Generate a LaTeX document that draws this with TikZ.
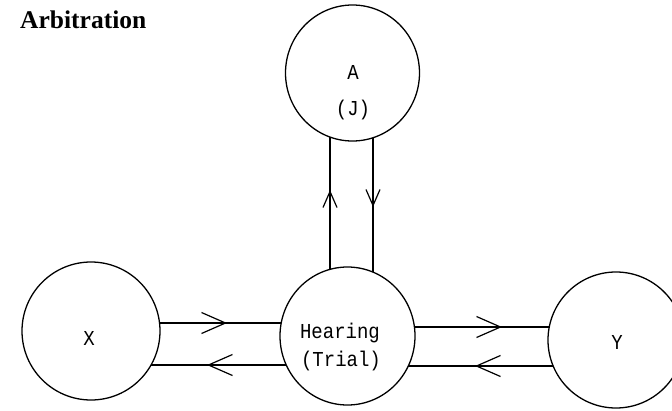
\documentclass[tikz,border=0pt]{standalone}
\usepackage{fontspec}
\setmainfont{Liberation Serif}
\newfontfamily\monofont{Liberation Mono}
\usetikzlibrary{shapes.geometric,arrows.meta,decorations.markings,backgrounds}
\newcommand\mytall[1]{\scalebox{1}[1.12]{#1}}
\begin{document}
\begin{tikzpicture}[x=1pt,y=-1pt,
  bubble/.style={draw, ellipse, line width=1.3pt, fill=white, inner sep=0pt},
  lbl/.style={font=\monofont\fontsize{19}{19}\selectfont, inner sep=0pt},
  link/.style={line width=1.2pt},
  hbarb/.style={postaction={decorate}, decoration={markings, mark=at position #1 with {\arrow{Straight Barb[length=24pt,width=21pt,line width=1.2pt]}}}},
  vbarb/.style={postaction={decorate}, decoration={markings, mark=at position #1 with {\arrow{Straight Barb[length=16pt,width=14pt,line width=1.2pt]}}}}
]
\useasboundingbox (0,0) rectangle (672,410);

\node[font=\bfseries\fontsize{25.5}{26}\selectfont, anchor=base west, inner sep=0pt] (title) at (20,28) {Arbitration};

\node[bubble, minimum width=138pt, minimum height=138pt] (X) at (91,331) {};
\node[bubble, minimum width=135pt, minimum height=138pt] (H) at (347.5,336) {};
\node[bubble, minimum width=136pt, minimum height=136pt] (Y) at (616,340) {};
\node[bubble, minimum width=134pt, minimum height=136pt] (A) at (352.5,73) {};

\node[lbl] (xl) at (89,338) {\mytall{X}};
\node[lbl] (yl) at (617,342) {\mytall{Y}};
\node[lbl] (al) at (353,72) {\mytall{A}};
\node[lbl] (jl) at (353,110) {\mytall{(J)}};
\node[lbl, anchor=base] (hl) at (340,338) {\mytall{Hearing}};
\node[lbl, anchor=base] (tl) at (341,366) {\mytall{(Trial)}};

\begin{scope}[on background layer]
  \draw[link, hbarb=136pt] (X.center |- 0,323) -- (H.center |- 0,323);
  \draw[link, hbarb=140.5pt] (H.center |- 0,365) -- (X.center |- 0,365);
  \draw[link, hbarb=154.5pt] (H.center |- 0,327) -- (Y.center |- 0,327);
  \draw[link, hbarb=141pt] (Y.center |- 0,366) -- (H.center |- 0,366);
  \draw[link, vbarb=146pt] (H.center -| 330,0) -- (A.center -| 330,0);
  \draw[link, vbarb=134pt] (A.center -| 373,0) -- (H.center -| 373,0);
\end{scope}
\end{tikzpicture}
\end{document}
